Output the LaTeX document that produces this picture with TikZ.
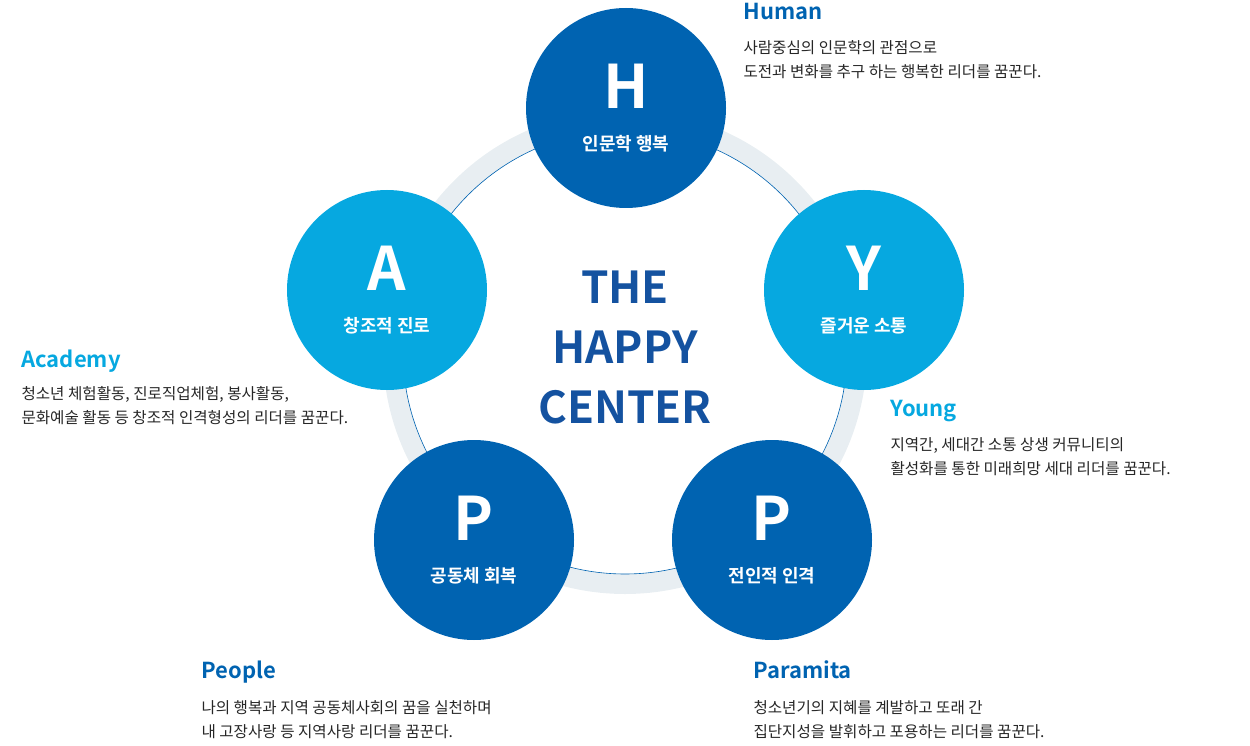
\documentclass[tikz,border=0pt]{standalone}
\usepackage{fontspec}
\setmainfont{Noto Sans CJK KR}
\newfontfamily\krbold{Noto Sans CJK KR Bold}
\usetikzlibrary{positioning}
\definecolor{darkblue}{HTML}{0063B1}
\definecolor{lightblue}{HTML}{06A8E0}
\definecolor{ringgray}{HTML}{E8EEF2}
\definecolor{titleblue}{HTML}{1452A0}

\tikzset{
  petal/.style={circle,minimum size=200pt,inner sep=0pt,text=white},
  heading/.style={anchor=north west,font=\krbold\fontsize{22}{22}\selectfont},
  body/.style={anchor=north west,align=left,font=\fontsize{15.6}{24}\selectfont,text=black!85}
}

\begin{document}
\begin{tikzpicture}[x=1pt,y=-1pt]
  \useasboundingbox (0,0) rectangle (1250,746);

  \coordinate (mid) at (625,352);
  \draw[ringgray,line width=20pt] (mid) circle (232);
  \draw[darkblue,line width=0.6pt] (mid) circle (222);

  \node[petal,fill=darkblue] at (626,108) (human) {};
  \node[petal,fill=lightblue] at (864,290) (young) {};
  \node[petal,fill=darkblue] at (772,540) (paramita) {};
  \node[petal,fill=darkblue] at (474,540) (people) {};
  \node[petal,fill=lightblue] at (387,290) (academy) {};

  \foreach \n/\l/\t in {human/H/인문학 행복, young/Y/즐거운 소통, paramita/P/전인적 인격,
                         people/P/공동체 회복, academy/A/창조적 진로} {
    \node[text=white,font=\krbold\fontsize{60}{60}\selectfont] at ([yshift=22pt]\n.center) {\l};
    \node[text=white,font=\krbold\fontsize{18}{18}\selectfont] at ([yshift=-36pt]\n.center) {\t};
  }

  \node[text=titleblue,align=center,font=\krbold\fontsize{44}{60}\selectfont] at (625,348) (title) {THE\\HAPPY\\CENTER};

  \node[heading,text=darkblue] at (740,0) (humanhead) {Human};
  \node[body] at (740,37) (humantext) {사람중심의 인문학의 관점으로\\도전과 변화를 추구 하는 행복한 리더를 꿈꾼다.};

  \node[heading,text=lightblue] at (887,397) (younghead) {Young};
  \node[body] at (887,434) (youngtext) {지역간, 세대간 소통 상생 커뮤니티의\\활성화를 통한 미래희망 세대 리더를 꿈꾼다.};

  \node[heading,text=darkblue] at (750,657) (paramitahead) {Paramita};
  \node[body] at (750,697) (paramitatext) {청소년기의 지혜를 계발하고 또래 간\\집단지성을 발휘하고 포용하는 리더를 꿈꾼다.};

  \node[heading,text=darkblue] at (198,657) (peoplehead) {People};
  \node[body] at (198,697) (peopletext) {나의 행복과 지역 공동체사회의 꿈을 실천하며\\내 고장사랑 등 지역사랑 리더를 꿈꾼다.};

  \node[heading,text=lightblue] at (18,346) (academyhead) {Academy};
  \node[body] at (18,383) (academytext) {청소년 체험활동, 진로직업체험, 봉사활동,\\문화예술 활동 등 창조적 인격형성의 리더를 꿈꾼다.};
\end{tikzpicture}
\end{document}
